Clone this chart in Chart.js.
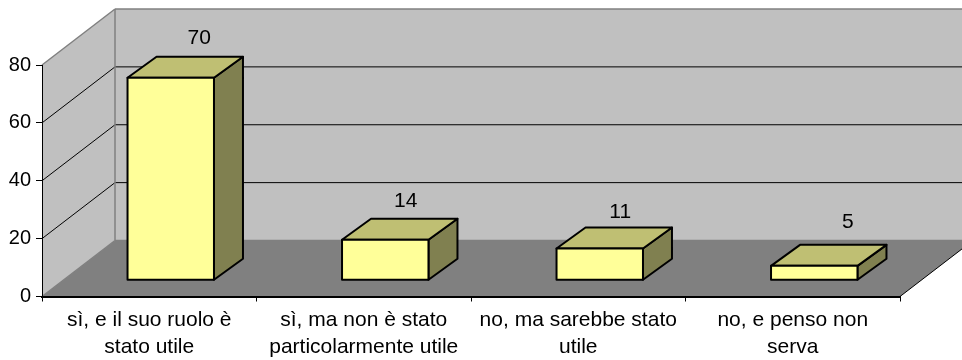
<!DOCTYPE html>
<html>
<head>
<meta charset="utf-8">
<style>
  html, body { margin: 0; padding: 0; background: #fff; }
  canvas { display: block; }
</style>
<script src="https://cdn.jsdelivr.net/npm/chart.js@4/dist/chart.umd.min.js"></script>
</head>
<body>
<canvas id="chart" width="962" height="360"></canvas>
<script>
const categories = [
  ["sì, e il suo ruolo è", "stato utile"],
  ["sì, ma non è stato", "particolarmente utile"],
  ["no, ma sarebbe stato", "utile"],
  ["no, e penso non", "serva"]
];
const values = [70, 14, 11, 5];
const yTicks = [0, 20, 40, 60, 80];

const FONT = '"Liberation Sans", Arial, sans-serif';

// depth of the fake 3D box
const WALL_DX = 73, WALL_DY = -56;
// bars stand in the middle of the floor
const BAR_SHIFT_X = 21.5, BAR_SHIFT_Y = -16.2;
const BAR_DX = 29, BAR_DY = -21;
// the value labels are not placed evenly in the reference
const LABEL_NUDGE_X = [14, 6, 6, 19];
const LABEL_NUDGE_Y = [-19, -18, -15, -23];

function poly(ctx, pts, fill, stroke, lw) {
  ctx.beginPath();
  pts.forEach((p, i) => i ? ctx.lineTo(p[0], p[1]) : ctx.moveTo(p[0], p[1]));
  ctx.closePath();
  if (fill) { ctx.fillStyle = fill; ctx.fill(); }
  if (stroke) { ctx.strokeStyle = stroke; ctx.lineWidth = lw; ctx.lineJoin = "round"; ctx.stroke(); }
}

function seg(ctx, x1, y1, x2, y2, color, lw) {
  ctx.beginPath();
  ctx.moveTo(x1, y1);
  ctx.lineTo(x2, y2);
  ctx.strokeStyle = color;
  ctx.lineWidth = lw;
  ctx.stroke();
}

// walls, floor and gridlines, all taken from the scales
const wallsPlugin = {
  id: "walls",
  beforeDraw(chart) {
    const { ctx, scales } = chart;
    const l = scales.x.left, r = scales.x.right;
    const y0 = scales.y.getPixelForValue(0);
    const yTop = scales.y.getPixelForValue(yTicks[yTicks.length - 1]);
    const bx = l + WALL_DX, by = y0 + WALL_DY, tb = yTop + WALL_DY;
    ctx.save();
    poly(ctx, [[bx, tb], [r + WALL_DX, tb], [r + WALL_DX, by], [bx, by]], "#c0c0c0");
    poly(ctx, [[l, yTop], [bx, tb], [bx, by], [l, y0]], "#c0c0c0");
    poly(ctx, [[l, y0], [bx, by], [r + WALL_DX, by], [r, y0]], "#808080");
    yTicks.slice(1, -1).forEach(v => {
      const y = scales.y.getPixelForValue(v);
      seg(ctx, l, y, bx, y + WALL_DY, "#000", 1);
      seg(ctx, bx, y + WALL_DY, r + WALL_DX, y + WALL_DY, "#000", 1);
    });
    const edge = "#808080";
    seg(ctx, l, yTop, bx, tb, edge, 1.5);
    seg(ctx, bx, tb, r + WALL_DX, tb, edge, 1.5);
    seg(ctx, bx, tb, bx, by, edge, 1.5);
    seg(ctx, bx, by, r + WALL_DX, by, edge, 1.5);
    seg(ctx, l, y0, bx, by, edge, 1.5);
    seg(ctx, r, y0, r + WALL_DX, by, "#000", 1);
    ctx.restore();
  },
  // bars are moved back on the floor, side and top go behind the front face
  beforeDatasetDraw(chart, args) {
    const { ctx } = chart;
    ctx.save();
    ctx.translate(BAR_SHIFT_X, BAR_SHIFT_Y);
    args.meta.data.forEach(bar => {
      const x1 = bar.x - bar.width / 2, x2 = bar.x + bar.width / 2;
      const yt = bar.y, yb = bar.base;
      poly(ctx, [[x2, yt], [x2 + BAR_DX, yt + BAR_DY], [x2 + BAR_DX, yb + BAR_DY], [x2, yb]], "#808050", "#000", 2);
      poly(ctx, [[x1, yt], [x1 + BAR_DX, yt + BAR_DY], [x2 + BAR_DX, yt + BAR_DY], [x2, yt]], "#bfbf73", "#000", 2);
    });
  },
  afterDatasetDraw(chart, args) {
    const { ctx } = chart;
    // outline of the front face, centred on the edge
    args.meta.data.forEach(bar => {
      const x1 = bar.x - bar.width / 2, x2 = bar.x + bar.width / 2;
      poly(ctx, [[x1, bar.y], [x2, bar.y], [x2, bar.base], [x1, bar.base]], null, "#000", 2);
    });
    ctx.restore();
  },
  afterDatasetsDraw(chart) {
    const { ctx } = chart;
    ctx.save();
    ctx.font = "21px " + FONT;
    ctx.fillStyle = "#000";
    ctx.textAlign = "center";
    ctx.textBaseline = "middle";
    chart.getDatasetMeta(0).data.forEach((bar, i) => {
      const x = bar.x + BAR_SHIFT_X + BAR_DX / 2 + LABEL_NUDGE_X[i];
      const y = bar.y + BAR_SHIFT_Y + BAR_DY + LABEL_NUDGE_Y[i];
      ctx.fillText(String(values[i]), x, y);
    });
    ctx.restore();
  }
};

new Chart(document.getElementById("chart"), {
  type: "bar",
  data: {
    labels: categories,
    datasets: [{
      data: values,
      backgroundColor: "#ffff99",
      borderWidth: 0,
      categoryPercentage: 1,
      barPercentage: 0.403,
      clip: false
    }]
  },
  options: {
    responsive: false,
    animation: false,
    layout: { padding: { top: 65, right: 62, left: 0, bottom: 0 } },
    plugins: { legend: { display: false }, tooltip: { enabled: false } },
    scales: {
      x: {
        afterFit(s) { s.height = 63.5; },
        border: { display: true, color: "#000", width: 2 },
        grid: { drawOnChartArea: false, tickColor: "#000", tickLength: 5 },
        ticks: {
          color: "#000",
          maxRotation: 0,
          autoSkip: false,
          padding: 5,
          font: { family: FONT, size: 21, lineHeight: 1.29 }
        }
      },
      y: {
        min: 0,
        max: 80,
        afterFit(s) { s.width = 42; },
        border: { display: true, color: "#000", width: 1 },
        grid: { drawOnChartArea: false, tickColor: "#000", tickLength: 6 },
        ticks: {
          color: "#000",
          stepSize: 20,
          padding: 5,
          font: { family: FONT, size: 20 }
        }
      }
    }
  },
  plugins: [wallsPlugin]
});
</script>
</body>
</html>
